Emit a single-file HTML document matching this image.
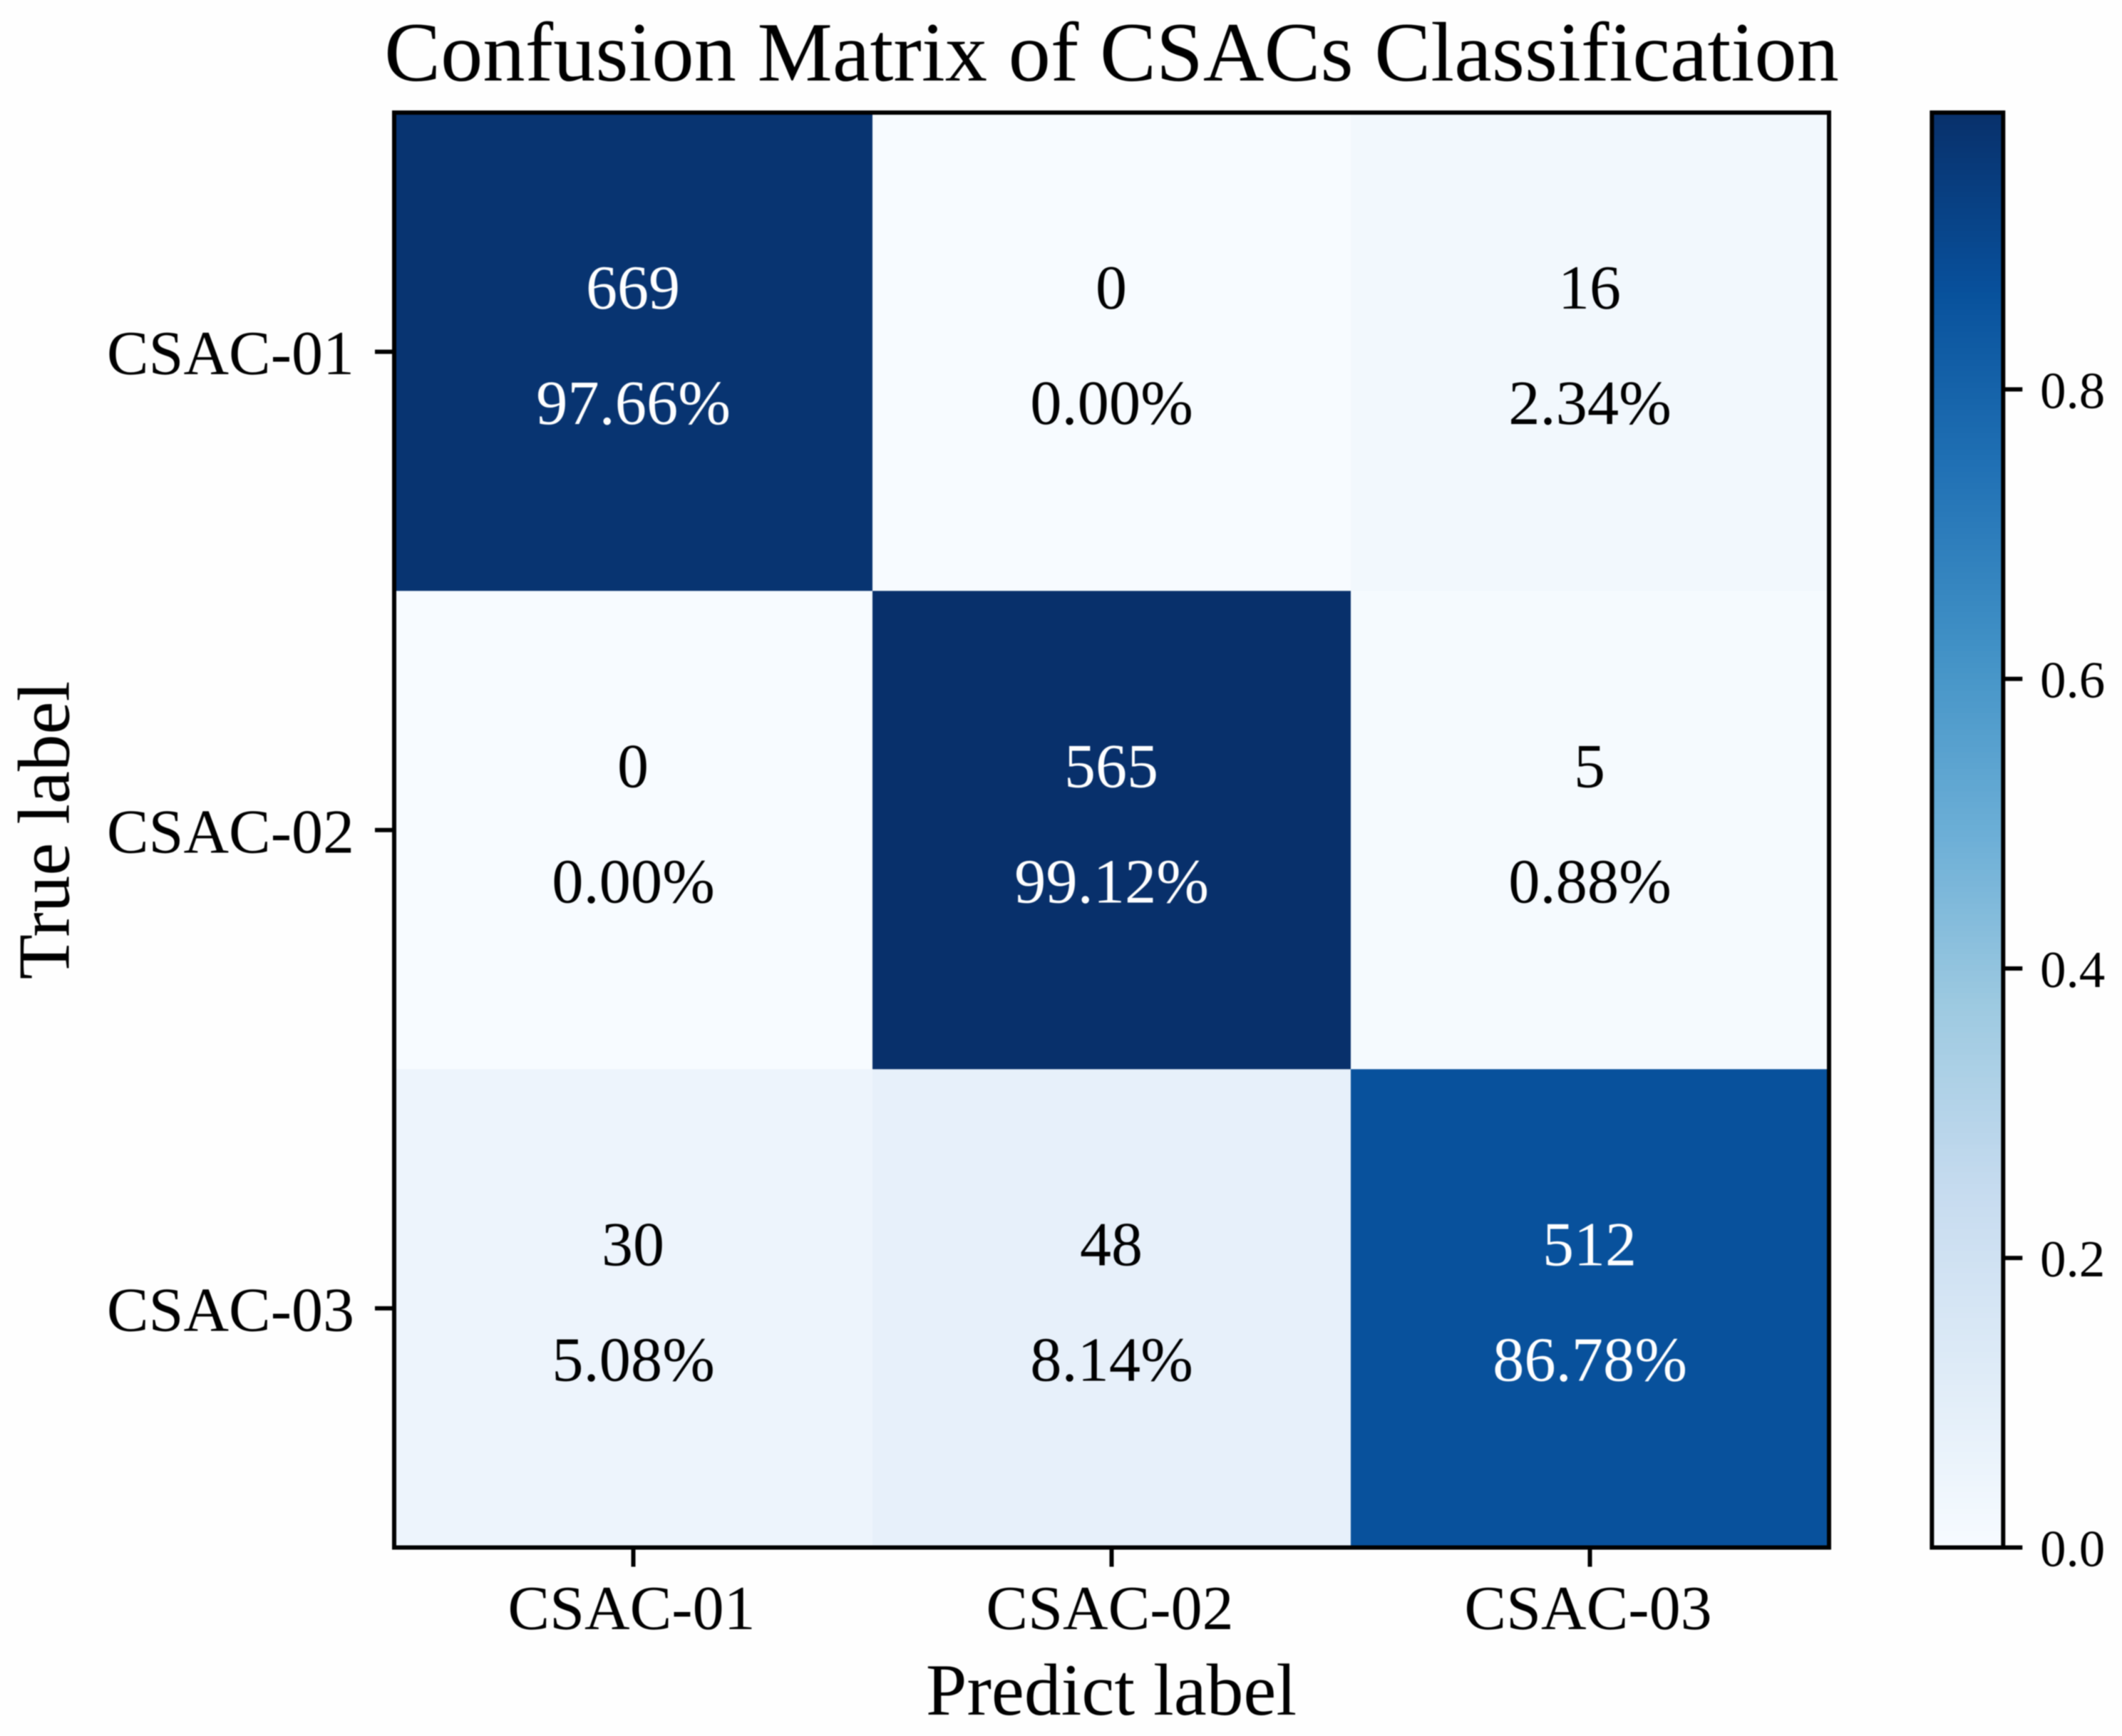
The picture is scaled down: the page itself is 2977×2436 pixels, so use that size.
<!DOCTYPE html>
<html lang="en">
<head>
<meta charset="utf-8">
<title>Confusion Matrix of CSACs Classification</title>
<style>
  html, body { margin: 0; padding: 0; background: #fff; width: 2977px; height: 2436px; overflow: hidden; }
  svg { display: block; filter: blur(0.9px); }
  text {
    font-family: "Liberation Serif", "Times New Roman", serif;
    fill: #000;
    text-rendering: geometricPrecision;
    font-variant-ligatures: none;
  }
</style>
</head>
<body>
<svg id="chart" xmlns="http://www.w3.org/2000/svg" width="2977" height="2436" viewBox="0 0 2977 2436">
  <rect x="0" y="0" width="2977" height="2436" fill="#fefefe"/>
  <text x="1559.5" y="113" font-size="118.5" text-anchor="middle">Confusion Matrix of CSACs Classification</text>
  <text x="1559" y="2406" font-size="103.5" text-anchor="middle">Predict label</text>
  <text x="0" y="0" font-size="103.5" text-anchor="middle" transform="translate(96.7 1165) rotate(-90)">True label</text>
  <g id="cells"></g>
  <g id="cell-labels"></g>
  <g id="x-axis"></g>
  <g id="y-axis"></g>
  <g id="colorbar"></g>
</svg>
<script>
// Chart data
const categories = ["CSAC-01", "CSAC-02", "CSAC-03"];
const counts = [
  [669, 0, 16],
  [0, 565, 5],
  [30, 48, 512]
];
const rates = [
  [0.9766, 0.0000, 0.0234],
  [0.0000, 0.9912, 0.0088],
  [0.0508, 0.0814, 0.8678]
];
const colorbarTicks = [0.0, 0.2, 0.4, 0.6, 0.8];
const colorMin = 0.0;
const colorMax = 0.9912;
const bluesPalette = ["#f7fbff", "#deebf7", "#c6dbef", "#9ecae1", "#6baed6", "#4292c6", "#2171b5", "#08519c", "#08306b"];

// Layout
const SVG_NS = "http://www.w3.org/2000/svg";
const plot = { left: 553, right: 2566, top: 158, bottom: 2171.5 };
const bar = { left: 2710.3, right: 2810.3, top: 158, bottom: 2171.5 };
const LINE_WIDTH = 6;
const TICK_LENGTH = 24;

// Scales
const xScale = function (i) { return plot.left + (plot.right - plot.left) * i / categories.length; };
const yScale = function (i) { return plot.top + (plot.bottom - plot.top) * i / categories.length; };
const colorY = function (v) { return bar.bottom - (bar.bottom - bar.top) * (v - colorMin) / (colorMax - colorMin); };

function hexToRgb(hex) {
  return [1, 3, 5].map(function (p) { return parseInt(hex.slice(p, p + 2), 16); });
}
function colorAt(t) {
  const clamped = Math.max(0, Math.min(1, t));
  const pos = clamped * (bluesPalette.length - 1);
  const low = Math.min(Math.floor(pos), bluesPalette.length - 2);
  const frac = pos - low;
  const a = hexToRgb(bluesPalette[low]);
  const b = hexToRgb(bluesPalette[low + 1]);
  const mix = a.map(function (c, k) { return Math.round(c + (b[k] - c) * frac); });
  return "rgb(" + mix.join(",") + ")";
}
function normalize(v) { return (v - colorMin) / (colorMax - colorMin); }
function make(tag, attrs, parent) {
  const el = document.createElementNS(SVG_NS, tag);
  Object.keys(attrs).forEach(function (k) { el.setAttribute(k, attrs[k]); });
  parent.appendChild(el);
  return el;
}

const cellsGroup = document.getElementById("cells");
const labelsGroup = document.getElementById("cell-labels");
const xAxisGroup = document.getElementById("x-axis");
const yAxisGroup = document.getElementById("y-axis");
const barGroup = document.getElementById("colorbar");

// Heatmap cells and their labels
rates.forEach(function (row, r) {
  row.forEach(function (value, c) {
    const cell = make("rect", {
      x: xScale(c), y: yScale(r),
      width: xScale(c + 1) - xScale(c) + 0.5,
      height: yScale(r + 1) - yScale(r) + 0.5,
      fill: colorAt(normalize(value))
    }, cellsGroup);
    
    

    const cx = (xScale(c) + xScale(c + 1)) / 2 - 0.5;
    const cy = (yScale(r) + yScale(r + 1)) / 2;
    const ink = value > colorMax / 2 ? "#ffffff" : "#000000";

    const countText = make("text", { x: cx, y: cy - 60.5, "font-size": 88, "text-anchor": "middle", style: "fill:" + ink }, labelsGroup);
    countText.textContent = String(counts[r][c]);
    
    

    const rateText = make("text", { x: cx + 0.5, y: cy + 101.5, "font-size": 88.5, "text-anchor": "middle", style: "fill:" + ink }, labelsGroup);
    rateText.textContent = (value * 100).toFixed(2) + "%";
    
    
  });
});

// Plot frame
const frame = make("rect", {
  x: plot.left, y: plot.top, width: plot.right - plot.left, height: plot.bottom - plot.top,
  fill: "none", stroke: "#000", "stroke-width": LINE_WIDTH
}, cellsGroup);



// Category axes
categories.forEach(function (label, i) {
  const x = (xScale(i) + xScale(i + 1)) / 2;
  const y = (yScale(i) + yScale(i + 1)) / 2;

  const xTick = make("line", { x1: x, x2: x, y1: plot.bottom, y2: plot.bottom + 3 + TICK_LENGTH, stroke: "#000", "stroke-width": LINE_WIDTH }, xAxisGroup);
  
  

  const xLabel = make("text", { x: x - 2.5, y: 2286, "font-size": 88, "text-anchor": "middle" }, xAxisGroup);
  xLabel.textContent = label;
  
  

  const yTick = make("line", { x1: plot.left - 3 - TICK_LENGTH, x2: plot.left, y1: y, y2: y, stroke: "#000", "stroke-width": LINE_WIDTH }, yAxisGroup);
  
  

  const yLabel = make("text", { x: 497, y: y + 31.5, "font-size": 88, "text-anchor": "end" }, yAxisGroup);
  yLabel.textContent = label;
  
  
});

// Colorbar gradient drawn as thin bands through the colour scale
const bandCount = 256;
for (let b = 0; b < bandCount; b++) {
  const t0 = b / bandCount;
  const t1 = (b + 1) / bandCount;
  const v0 = colorMin + (colorMax - colorMin) * t0;
  const v1 = colorMin + (colorMax - colorMin) * t1;
  const band = make("rect", {
    x: bar.left, y: colorY(v1),
    width: bar.right - bar.left,
    height: colorY(v0) - colorY(v1) + 0.6,
    fill: colorAt((t0 + t1) / 2)
  }, barGroup);
  
  
}
const barFrame = make("rect", {
  x: bar.left, y: bar.top, width: bar.right - bar.left, height: bar.bottom - bar.top,
  fill: "none", stroke: "#000", "stroke-width": LINE_WIDTH
}, barGroup);



colorbarTicks.forEach(function (v) {
  const y = colorY(v);
  const tick = make("line", { x1: bar.right, x2: bar.right + 3 + TICK_LENGTH, y1: y, y2: y, stroke: "#000", "stroke-width": LINE_WIDTH }, barGroup);
  
  

  const label = make("text", { x: 2862, y: y + 26, "font-size": 73 }, barGroup);
  label.textContent = v.toFixed(1);
  
  
});
</script>
</body>
</html>
